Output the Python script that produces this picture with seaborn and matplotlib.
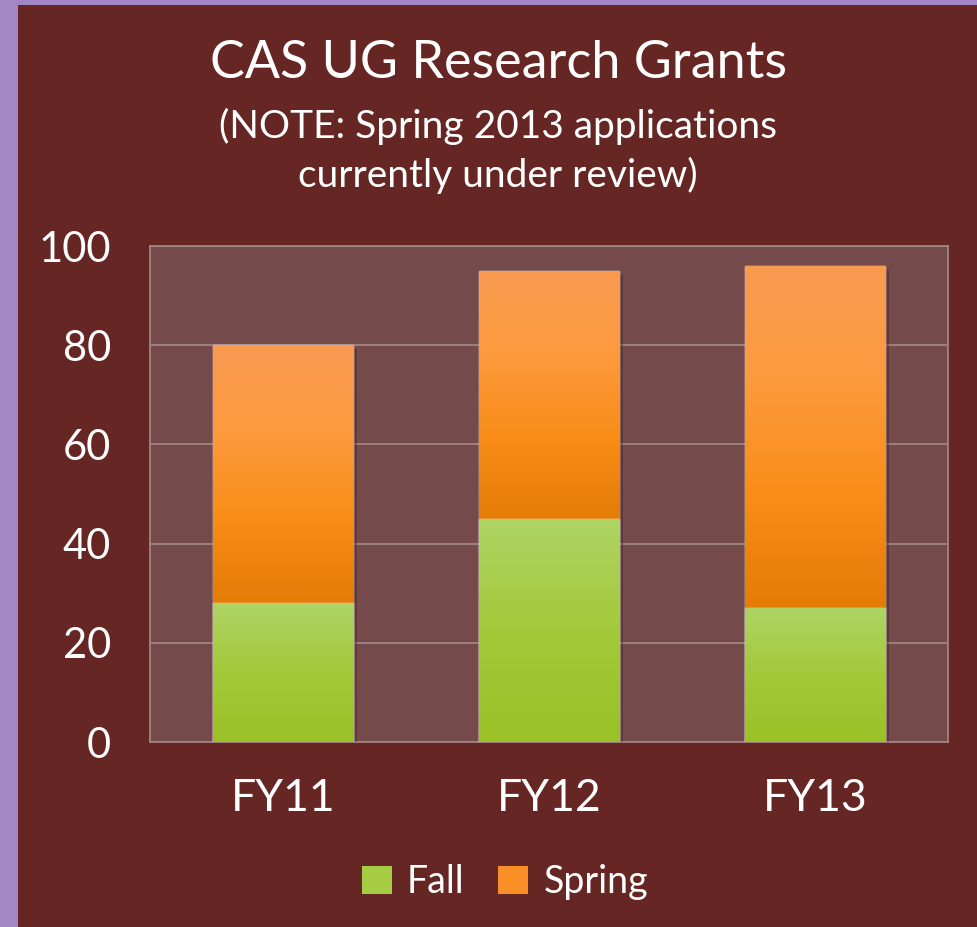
import numpy as np
import pandas as pd
import matplotlib
matplotlib.use("Agg")
import matplotlib.pyplot as plt
import matplotlib.patches as mpatches
from matplotlib.colors import LinearSegmentedColormap
import matplotlib.patheffects as pe
import seaborn as sns

# ---- data ----
years = ["FY11", "FY12", "FY13"]
fall = [28, 45, 27]
spring = [52, 50, 69]
yticks = [0, 20, 40, 60, 80, 100]

title = "CAS UG Research Grants"
subtitle = "(NOTE: Spring 2013 applications\ncurrently under review)"

# ---- style ----
BG = "#662624"
PURPLE = "#A586C4"
PLOT_BG = "#754A4A"
GRID = "#A08484"
TXT = "#FFFFFF"
FONT = ["Lato", "DejaVu Sans"]

sns.set_theme(style="white")
plt.rcParams["font.family"] = FONT

W, H = 977, 927
fig = plt.figure(figsize=(W / 100, H / 100), dpi=100)
fig.patch.set_facecolor(PURPLE)
# dark red slide panel
fig.add_artist(mpatches.Rectangle((18 / W, 0), 1 - 18 / W, 1 - 5 / H,
                                  transform=fig.transFigure, facecolor=BG,
                                  edgecolor="none", zorder=0))

ax = fig.add_axes([150 / W, 1 - 742 / H, (948 - 150) / W, (742 - 246) / H])
ax.set_facecolor(PLOT_BG)

total = [f + s for f, s in zip(fall, spring)]
df = pd.DataFrame({"year": years, "fall": fall, "spring": spring, "total": total})

sns.barplot(data=df, x="year", y="total", color="#F98F26", width=0.527,
            saturation=1, ax=ax, zorder=3)
n_sp = len(ax.patches)
sns.barplot(data=df, x="year", y="fall", color="#A6CC45", width=0.527,
            saturation=1, ax=ax, zorder=4)

orange_cmap = LinearSegmentedColormap.from_list(
    "o", ["#E47C06", "#F98D18", "#FD9A3E", "#FA9B52"])
green_cmap = LinearSegmentedColormap.from_list(
    "g", ["#9AC126", "#A3C93A", "#AED465"])
grad = np.linspace(0, 1, 256).reshape(-1, 1)

shadow = [pe.SimplePatchShadow(offset=(3, -3), shadow_rgbFace="#3a1a1a", alpha=0.35), pe.Normal()]

for i, p in enumerate(ax.patches):
    x0, w = p.get_x(), p.get_width()
    if i < n_sp:
        k = i
        y0, y1, cmap = fall[k], total[k], orange_cmap
        p.set_path_effects(shadow)
    else:
        k = i - n_sp
        y0, y1, cmap = 0, fall[k], green_cmap
    im = ax.imshow(grad, extent=(x0, x0 + w, y0, y1), origin="lower",
                   cmap=cmap, aspect="auto", zorder=p.get_zorder() + 0.1)
    im.set_clip_path(p)

ax.set_xlim(-0.5, 2.5)
ax.set_ylim(0, 100)
ax.set_yticks(yticks)
ax.set_yticklabels([str(v) for v in yticks])
ax.yaxis.grid(True, color=GRID, lw=1.3, zorder=1)
ax.set_axisbelow(True)
for s in ax.spines.values():
    s.set_visible(True)
    s.set_color(GRID)
    s.set_linewidth(1.3)
ax.tick_params(axis="both", length=0, colors=TXT)
ax.tick_params(axis="y", pad=28, labelsize=30)
ax.tick_params(axis="x", pad=26, labelsize=32)
ax.set_xlabel("")
ax.set_ylabel("")

fig.text(498 / W, 1 - 63 / H, title, ha="center", va="center",
         color=TXT, fontsize=37.5)
fig.text(498 / W, 1 - 151 / H, subtitle, ha="center", va="center",
         color=TXT, fontsize=28, linespacing=1.4)

handles = [mpatches.Patch(facecolor="#A6CC45", edgecolor="none", label="Fall"),
           mpatches.Patch(facecolor="#F98F26", edgecolor="none", label="Spring")]
leg = fig.legend(handles=handles, loc="center", bbox_to_anchor=(505 / W, 1 - 882 / H),
                 ncol=2, frameon=False, fontsize=27, handlelength=0.8,
                 handleheight=0.8, handletextpad=0.4, columnspacing=0.9)
for t in leg.get_texts():
    t.set_color(TXT)

fig.savefig("out.png", dpi=100, facecolor=fig.get_facecolor())
